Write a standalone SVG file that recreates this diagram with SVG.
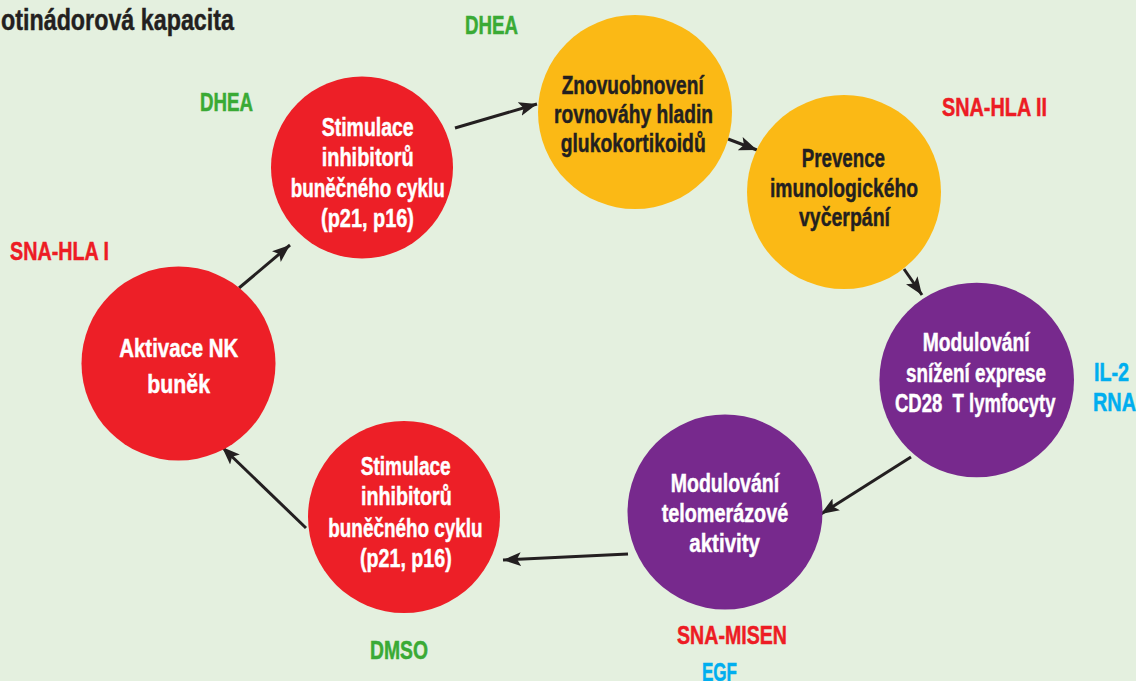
<svg xmlns="http://www.w3.org/2000/svg" width="1136" height="681" viewBox="0 0 1136 681">
<defs>
<style>
.t{font-family:"Liberation Sans",Arial,sans-serif;font-weight:bold;font-size:25.5px;stroke-width:0.45px;paint-order:stroke}
.w{fill:#ffffff;stroke:#ffffff}
.d{fill:#231f20;stroke:#231f20}
.lab{font-family:"Liberation Sans",Arial,sans-serif;font-weight:bold;font-size:26.5px;stroke-width:0.5px}
.g{fill:#3aaa35;stroke:#3aaa35}
.r{fill:#ed1c24;stroke:#ed1c24}
.c{fill:#00aeef;stroke:#00aeef}
.red{fill:#ed1f27}
.yel{fill:#fbb915}
.pur{fill:#77298d}
.con{stroke:#231f20;stroke-width:3;fill:none;marker-end:url(#ah)}
</style>
<marker id="ah" markerUnits="userSpaceOnUse" markerWidth="19" markerHeight="15" refX="18" refY="7.5" orient="auto" viewBox="0 0 19 15">
<path d="M0,0.5 L18,7.5 L0,14.5 L4,7.5 z" fill="#231f20"/>
</marker>
</defs>
<rect x="0" y="0" width="1136" height="681" fill="#e4f0df"/>

<g id="labels">
<text class="t d" x="1" y="30" textLength="233" lengthAdjust="spacingAndGlyphs" style="font-size:29px">otinádorová kapacita</text>
<text class="lab g" x="465" y="34" textLength="53" lengthAdjust="spacingAndGlyphs">DHEA</text>
<text class="lab g" x="200" y="111" textLength="53" lengthAdjust="spacingAndGlyphs">DHEA</text>
<text class="lab r" x="942" y="116" textLength="105" lengthAdjust="spacingAndGlyphs">SNA-HLA II</text>
<text class="lab r" x="10" y="260" textLength="99" lengthAdjust="spacingAndGlyphs">SNA-HLA I</text>
<text class="lab c" x="1094" y="381" textLength="35" lengthAdjust="spacingAndGlyphs">IL-2</text>
<text class="lab c" x="1093" y="411" textLength="43" lengthAdjust="spacingAndGlyphs">RNA</text>
<text class="lab r" x="677" y="644" textLength="110" lengthAdjust="spacingAndGlyphs">SNA-MISEN</text>
<text class="lab c" x="702" y="681" textLength="35" lengthAdjust="spacingAndGlyphs">EGF</text>
<text class="lab g" x="370" y="659" textLength="58" lengthAdjust="spacingAndGlyphs">DMSO</text>
</g>

<g id="connectors">
<line class="con" x1="239" y1="288" x2="290" y2="245"/>
<line class="con" x1="455" y1="128" x2="537" y2="104"/>
<line class="con" x1="728" y1="139" x2="757" y2="150"/>
<line class="con" x1="904" y1="269" x2="922" y2="295"/>
<line class="con" x1="911" y1="457" x2="821" y2="514"/>
<line class="con" x1="628" y1="554" x2="503" y2="560"/>
<line class="con" x1="306" y1="528" x2="222" y2="447"/>
</g>

<g id="node-stimulace-top">
<circle class="red" cx="362" cy="167.5" r="91"/>
<text class="t w" x="321.7" y="136" textLength="92" lengthAdjust="spacingAndGlyphs">Stimulace</text>
<text class="t w" x="321.7" y="166" textLength="92" lengthAdjust="spacingAndGlyphs">inhibitorů</text>
<text class="t w" x="290.7" y="197" textLength="154" lengthAdjust="spacingAndGlyphs">buněčného cyklu</text>
<text class="t w" x="321" y="227" textLength="93" lengthAdjust="spacingAndGlyphs">(p21, p16)</text>
</g>

<g id="node-znovuobnoveni">
<circle class="yel" cx="635" cy="112" r="97"/>
<text class="t d" x="561.7" y="94" textLength="142" lengthAdjust="spacingAndGlyphs">Znovuobnovení</text>
<text class="t d" x="554" y="123" textLength="159" lengthAdjust="spacingAndGlyphs">rovnováhy hladin</text>
<text class="t d" x="560.7" y="152" textLength="145" lengthAdjust="spacingAndGlyphs">glukokortikoidů</text>
</g>

<g id="node-prevence">
<circle class="yel" cx="844" cy="192" r="97"/>
<text class="t d" x="801.7" y="166.5" textLength="83.3" lengthAdjust="spacingAndGlyphs">Prevence</text>
<text class="t d" x="770" y="196.5" textLength="148" lengthAdjust="spacingAndGlyphs">imunologického</text>
<text class="t d" x="799" y="226" textLength="91" lengthAdjust="spacingAndGlyphs">vyčerpání</text>
</g>

<g id="node-cd28">
<circle class="pur" cx="976.7" cy="380" r="97.3"/>
<text class="t w" x="922.7" y="351" textLength="107" lengthAdjust="spacingAndGlyphs">Modulování</text>
<text class="t w" x="906" y="381.5" textLength="140" lengthAdjust="spacingAndGlyphs">snížení exprese</text>
<text class="t w" x="895" y="411.5" textLength="160.5" lengthAdjust="spacingAndGlyphs" style="white-space:pre">CD28  T lymfocyty</text>
</g>

<g id="node-telomeraza">
<circle class="pur" cx="725" cy="512" r="97.5"/>
<text class="t w" x="670.7" y="491.5" textLength="108.5" lengthAdjust="spacingAndGlyphs">Modulování</text>
<text class="t w" x="661.7" y="521.5" textLength="126.5" lengthAdjust="spacingAndGlyphs">telomerázové</text>
<text class="t w" x="689.3" y="552" textLength="70.7" lengthAdjust="spacingAndGlyphs">aktivity</text>
</g>

<g id="node-stimulace-bottom">
<circle class="red" cx="404" cy="517" r="96"/>
<text class="t w" x="360.7" y="475" textLength="90" lengthAdjust="spacingAndGlyphs">Stimulace</text>
<text class="t w" x="361" y="505" textLength="90.7" lengthAdjust="spacingAndGlyphs">inhibitorů</text>
<text class="t w" x="328.3" y="537" textLength="154.3" lengthAdjust="spacingAndGlyphs">buněčného cyklu</text>
<text class="t w" x="360" y="567" textLength="91.7" lengthAdjust="spacingAndGlyphs">(p21, p16)</text>
</g>

<g id="node-aktivace-nk">
<circle class="red" cx="178.5" cy="363.5" r="97"/>
<text class="t w" x="119.3" y="357" textLength="119" lengthAdjust="spacingAndGlyphs">Aktivace NK</text>
<text class="t w" x="147.3" y="393" textLength="62.7" lengthAdjust="spacingAndGlyphs">buněk</text>
</g>
</svg>
